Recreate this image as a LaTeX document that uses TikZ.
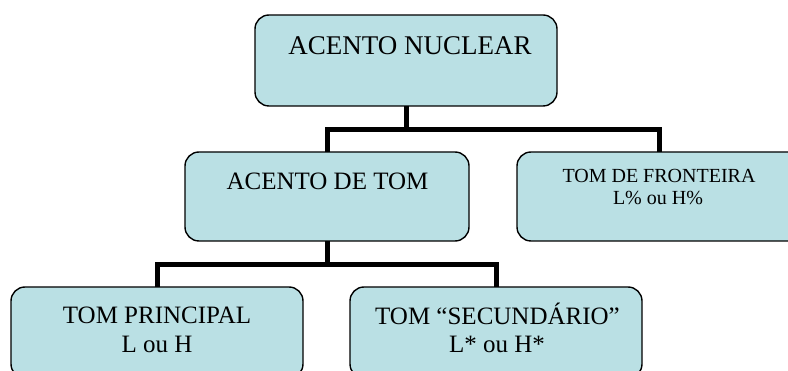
\documentclass[tikz,border=0pt]{standalone}
\usepackage{fontspec}
\setmainfont{Liberation Serif}
\definecolor{boxfill}{RGB}{186,224,228}
\begin{document}
\begin{tikzpicture}[x=1pt,y=-1pt,
  box/.style={draw=black,line width=1.4pt,fill=boxfill,rounded corners=14pt,
    rectangle,inner sep=0pt,outer sep=0pt},
  lbl/.style={anchor=base,inner sep=0pt,outer sep=0pt,align=center},
  conn/.style={draw=black,line width=5pt}]
\useasboundingbox (0,0) rectangle (788,371);
\clip (0,0) rectangle (788,371);
% boxes (x range / y range)
\node[box,minimum width=302pt,minimum height=91pt] (b1) at (406,60.5) {};
\node[box,minimum width=284pt,minimum height=89pt] (b2) at (327,196.5) {};
\node[box,minimum width=320pt,minimum height=89pt] (b3) at (677,196.5) {};
\node[box,minimum width=292pt,minimum height=91pt] (b4) at (157,332.5) {};
\node[box,minimum width=292pt,minimum height=91pt] (b5) at (496,332.5) {};
\coordinate (c3) at (659,152);
% texts
\node[lbl,font=\fontsize{27}{31}\selectfont] (t1) at (410,55) {ACENTO NUCLEAR};
\node[lbl,font=\fontsize{25}{29}\selectfont] (t2) at (327.5,190) {ACENTO DE TOM};
\node[lbl,font=\fontsize{20}{23}\selectfont] (t3a) at (659,183) {TOM DE FRONTEIRA};
\node[lbl,font=\fontsize{20}{23}\selectfont] (t3b) at (658,205) {L\% ou H\%};
\node[lbl,font=\fontsize{25}{29}\selectfont] (t4a) at (157,324) {TOM PRINCIPAL};
\node[lbl,font=\fontsize{25}{29}\selectfont] (t4b) at (157,353) {L ou H};
\node[lbl,font=\fontsize{25}{29}\selectfont] (t5a) at (497.5,325) {TOM “SECUNDÁRIO”};
\node[lbl,font=\fontsize{25}{29}\selectfont] (t5b) at (497,353) {L* ou H*};
% connectors
\draw[conn] (b1.south) -- ++(0,24) coordinate (j1) -| (b2.north);
\draw[conn] (j1) -| (c3);
\draw[conn] (b2.south) -- ++(0,24) coordinate (j2) -| (b4.north);
\draw[conn] (j2) -| (b5.north);
\end{tikzpicture}
\end{document}
